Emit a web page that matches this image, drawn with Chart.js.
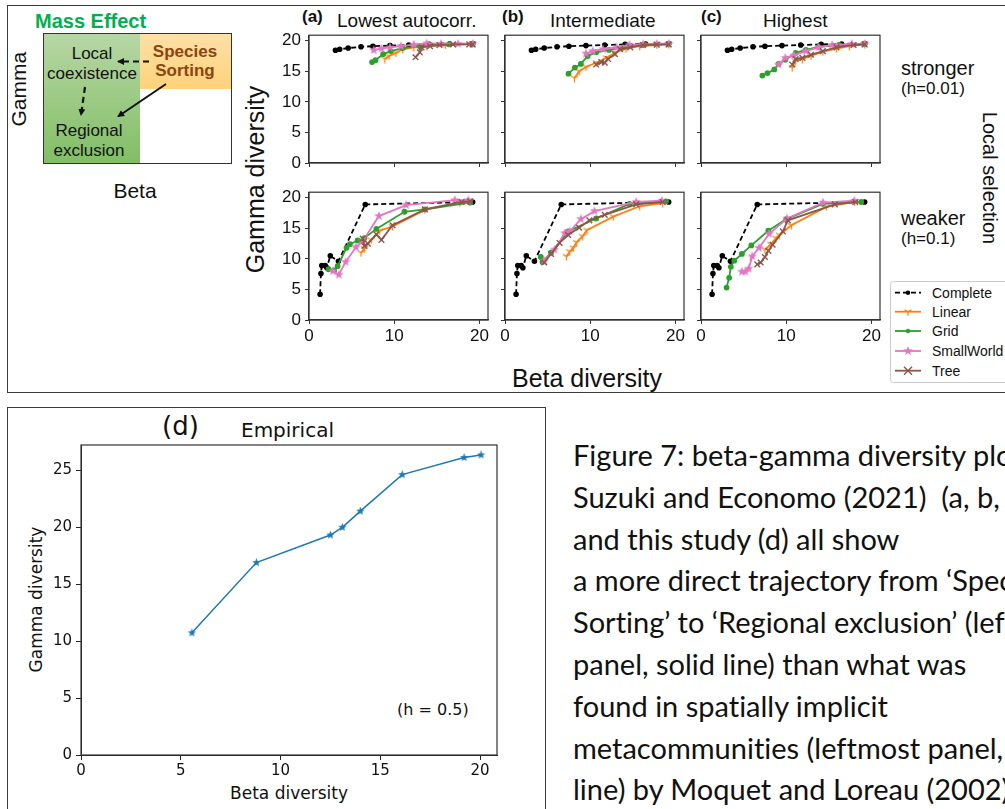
<!DOCTYPE html>
<html>
<head>
<meta charset="utf-8">
<script src="https://cdn.jsdelivr.net/npm/chart.js@4.4.1/dist/chart.umd.min.js"></script>
<style>
  body { margin: 0; width: 1005px; height: 809px; overflow: hidden; background: #fff; position: relative;
         font-family: "Liberation Sans", Arial, sans-serif; color: #111; }
  .abs { position: absolute; white-space: nowrap; line-height: 1; }
  canvas { position: absolute; }
  .box { position: absolute; border: 1.5px solid #3a3a3a; }
</style>
</head>
<body>

<!-- outer frames -->
<div class="box" style="left:7px;top:5px;width:1100px;height:386px;"></div>
<div class="box" style="left:7px;top:407px;width:537px;height:420px;"></div>

<!-- schematic (not data) -->
<div class="abs" style="left:35px;top:11px;font-size:20px;font-weight:bold;color:#00b050;">Mass Effect</div>
<div style="position:absolute;left:43px;top:33px;width:187px;height:129px;border:1.5px solid #333;overflow:hidden;">
  <div style="position:absolute;left:0;top:0;width:96px;height:129px;background:linear-gradient(#b7d7a4,#82be66);"></div>
  <div style="position:absolute;left:96px;top:0;width:91px;height:55px;background:linear-gradient(#fde0a6,#ffd27a);"></div>
</div>
<div class="abs" style="left:46px;top:45px;width:92px;text-align:center;font-size:17px;">Local</div>
<div class="abs" style="left:44px;top:65px;width:96px;text-align:center;font-size:17px;">coexistence</div>
<div class="abs" style="left:140px;top:43px;width:90px;text-align:center;font-size:17px;font-weight:bold;color:#8a4510;">Species</div>
<div class="abs" style="left:140px;top:62px;width:90px;text-align:center;font-size:17px;font-weight:bold;color:#8a4510;">Sorting</div>
<div class="abs" style="left:44px;top:122px;width:90px;text-align:center;font-size:17px;">Regional</div>
<div class="abs" style="left:44px;top:142px;width:90px;text-align:center;font-size:17px;">exclusion</div>
<svg style="position:absolute;left:0;top:0" width="250" height="200">
  <defs>
    <marker id="ah" markerWidth="8" markerHeight="8" refX="6" refY="4" orient="auto" markerUnits="userSpaceOnUse">
      <path d="M0,0.5 L7,4 L0,7.5 Z" fill="#111"/>
    </marker>
  </defs>
  <line x1="149" y1="61.5" x2="118" y2="61.5" stroke="#111" stroke-width="2.2" stroke-dasharray="6,4" marker-end="url(#ah)"/>
  <line x1="85" y1="87" x2="81" y2="115" stroke="#111" stroke-width="2.2" stroke-dasharray="6,4" marker-end="url(#ah)"/>
  <line x1="166" y1="84" x2="118" y2="116.5" stroke="#111" stroke-width="2" marker-end="url(#ah)"/>
</svg>
<div class="abs" style="left:-12px;top:86px;width:60px;text-align:center;font-size:21px;transform:rotate(-90deg);">Gamma</div>
<div class="abs" style="left:105px;top:180px;width:60px;text-align:center;font-size:21px;">Beta</div>

<!-- panel titles and side labels -->
<div class="abs" style="left:302px;top:8px;font-size:17px;font-weight:bold;">(a)</div>
<div class="abs" style="left:337px;top:11px;font-size:19px;">Lowest autocorr.</div>
<div class="abs" style="left:502px;top:8px;font-size:17px;font-weight:bold;">(b)</div>
<div class="abs" style="left:550px;top:11px;font-size:19px;">Intermediate</div>
<div class="abs" style="left:701px;top:8px;font-size:17px;font-weight:bold;">(c)</div>
<div class="abs" style="left:763px;top:11px;font-size:19px;">Highest</div>
<div class="abs" style="left:901px;top:58px;font-size:20px;">stronger</div>
<div class="abs" style="left:901px;top:80px;font-size:17px;">(h=0.01)</div>
<div class="abs" style="left:901px;top:208px;font-size:20px;">weaker</div>
<div class="abs" style="left:901px;top:230px;font-size:17px;">(h=0.1)</div>
<div class="abs" style="left:920px;top:168px;width:140px;text-align:center;font-size:20px;transform:rotate(90deg);">Local selection</div>
<div class="abs" style="left:155px;top:167px;width:200px;text-align:center;font-size:25px;transform:rotate(-90deg);">Gamma diversity</div>
<div class="abs" style="left:487px;top:366px;width:200px;text-align:center;font-size:25px;">Beta diversity</div>

<!-- legend for the six panels -->
<svg id="legend" style="position:absolute;left:890px;top:281px" width="130" height="103"></svg>

<!-- panel (d) texts -->
<div class="abs" style="left:162px;top:413px;font-family:'DejaVu Sans';font-size:26px;">(d)</div>
<div class="abs" style="left:241px;top:420px;font-family:'DejaVu Sans';font-size:20px;">Empirical</div>
<div class="abs" style="left:-44px;top:591px;width:160px;text-align:center;font-family:'DejaVu Sans';font-size:17px;transform:rotate(-90deg);">Gamma diversity</div>
<div class="abs" style="left:209px;top:785px;width:160px;text-align:center;font-family:'DejaVu Sans';font-size:17px;">Beta diversity</div>
<div class="abs" style="left:397px;top:702px;font-family:'DejaVu Sans';font-size:16px;">(h = 0.5)</div>

<!-- caption -->
<div class="abs" style="left:573px;top:434px;font-family:Lato,'Open Sans',sans-serif;font-size:29px;line-height:41.8px;color:#111;font-variant-ligatures:none;">Figure 7: beta-gamma diversity plots<br>Suzuki and Economo (2021) &nbsp;(a, b, c)<br>and this study (d) all show<br>a more direct trajectory from ‘Species<br>Sorting’ to ‘Regional exclusion’ (left<br>panel, solid line) than what was<br>found in spatially implicit<br>metacommunities (leftmost panel,<br>line) by Moquet and Loreau (2002)</div>

<script>
// ---- data: [beta, gamma] pairs ----
const strongComplete = [[3.1,18.45],[3.6,18.6],[4.6,18.8],[6.1,19.0],[7.5,19.1],[9.5,19.2],[11.7,19.3],[14.1,19.4],[16.5,19.45],[19.2,19.5]];
const weakComplete = [[1.3,4.2],[1.4,7.6],[1.5,8.9],[1.9,8.9],[2.1,8.55],[2.5,10.5],[3.45,9.6],[6.6,18.9],[19.2,19.3]];

const aStrongLinear = [[8.9,17.0],[9.4,17.5],[10.2,18.0],[11.0,18.6],[12.3,18.9],[13.8,19.1],[16.0,19.3],[19.2,19.5]];
const aStrongGrid = [[7.4,16.5],[7.8,16.8],[8.7,17.8],[9.6,18.3],[11.0,18.8],[13.0,19.1],[16.4,19.4],[19.2,19.5]];
const aStrongSmallWorld = [[7.6,18.45],[8.5,18.7],[9.5,18.9],[10.8,19.1],[12.3,19.35],[13.8,19.55],[15.5,19.5],[17.5,19.5],[19.2,19.5]];
const aStrongTree = [[12.5,17.3],[13.0,18.1],[13.2,18.9],[14.2,19.1],[15.3,19.3],[16.9,19.4],[18.8,19.4],[19.2,19.4]];

const bStrongLinear = [[8.15,13.9],[8.7,15.0],[9.5,15.7],[10.7,16.4],[11.9,17.2],[13.0,18.1],[14.2,18.7],[15.8,19.1],[17.8,19.3],[19.2,19.4]];
const bStrongGrid = [[7.45,14.6],[8.2,15.6],[8.9,16.2],[9.7,17.5],[10.7,18.1],[12.2,18.5],[13.8,18.9],[16.2,19.3],[19.2,19.5]];
const bStrongSmallWorld = [[9.5,17.9],[10.3,18.3],[11.5,18.6],[13.1,18.9],[14.6,19.3],[16.2,19.4],[17.8,19.5],[19.2,19.5]];
const bStrongTree = [[10.7,16.1],[11.3,16.5],[11.7,16.4],[12.1,17.0],[12.9,17.8],[13.5,18.6],[14.7,18.9],[16.2,19.3],[17.8,19.35],[19.2,19.4]];

const cStrongLinear = [[10.7,15.6],[11.1,16.7],[11.9,17.0],[12.9,17.5],[14.3,18.2],[15.9,18.7],[17.4,19.1],[19.2,19.4]];
const cStrongGrid = [[7.2,14.3],[7.8,14.7],[8.6,15.3],[9.1,16.2],[9.9,16.9],[11.1,18.0],[12.3,18.5],[13.8,19.0],[16.2,19.3],[19.2,19.5]];
const cStrongSmallWorld = [[9.1,16.1],[9.9,17.2],[10.9,17.6],[12.3,18.3],[13.8,18.9],[15.4,19.3],[17.7,19.45],[19.2,19.5]];
const cStrongTree = [[10.7,16.1],[11.1,17.0],[11.9,17.2],[12.9,17.7],[14.3,18.3],[15.9,18.9],[17.9,19.3],[19.2,19.4]];

const aWeakLinear = [[6.1,11.0],[6.5,11.7],[7.3,13.1],[8.3,14.6],[9.8,15.3],[13.6,18.0],[17.7,19.2],[18.9,19.4]];
const aWeakGrid = [[2.3,8.3],[2.95,8.1],[3.35,8.8],[4.4,11.8],[4.8,12.4],[5.7,13.0],[6.5,13.4],[7.9,14.9],[11.2,17.7],[13.6,18.1],[18.9,19.2]];
const aWeakSmallWorld = [[2.8,8.0],[3.5,7.4],[4.3,9.5],[5.5,11.9],[6.3,12.9],[8.2,17.0],[11.4,18.8],[17.1,19.6],[18.7,19.6]];
const aWeakTree = [[6.3,13.3],[6.5,12.1],[6.9,12.5],[7.9,14.0],[8.5,13.1],[9.8,15.5],[13.6,18.1],[17.9,19.3],[18.9,19.4]];

const bWeakLinear = [[7.2,10.4],[7.6,11.2],[8.0,11.8],[8.4,12.7],[9.1,13.7],[9.6,14.7],[12.7,16.9],[15.8,18.6],[18.5,19.1]];
const bWeakGrid = [[4.2,10.3],[4.4,9.5],[5.4,11.0],[7.4,14.5],[10.7,16.6],[14.6,19.0],[18.9,19.4]];
const bWeakSmallWorld = [[4.6,9.7],[5.8,11.5],[7.0,14.2],[7.6,14.5],[8.9,16.5],[10.5,17.8],[15.4,19.3],[18.4,19.5]];
const bWeakTree = [[4.6,9.4],[5.4,10.8],[6.4,12.6],[7.4,13.9],[8.7,15.1],[9.9,16.3],[11.7,17.2],[15.4,18.9],[18.5,19.3]];

const cWeakLinear = [[7.5,11.5],[8.2,12.4],[8.8,13.4],[9.2,13.9],[10.6,15.5],[14.7,18.5],[18.0,19.3]];
const cWeakGrid = [[3.0,5.3],[3.3,6.9],[3.5,8.7],[3.9,9.7],[4.8,10.8],[5.9,12.2],[7.9,14.6],[10.0,16.5],[14.3,19.0],[18.8,19.3]];
const cWeakSmallWorld = [[4.8,7.9],[5.2,7.9],[5.6,8.4],[6.0,10.4],[6.8,11.8],[8.0,14.1],[10.1,16.6],[14.3,19.2],[18.0,19.5]];
const cWeakTree = [[6.6,9.1],[7.0,9.4],[7.5,10.3],[7.9,11.3],[8.4,12.3],[9.6,14.5],[10.2,16.3],[15.7,18.9],[18.1,19.3]];

// empirical panel (d)
const empBeta = [5.56, 8.79, 12.5, 13.1, 14.0, 16.1, 19.2, 20.05];
const empGamma = [10.72, 16.88, 19.3, 19.98, 21.4, 24.6, 26.1, 26.33];

// tick labels
const betaTicks = [0, 10, 20];
const gammaTicks = [0, 5, 10, 15, 20];
const empBetaTicks = [0, 5, 10, 15, 20];
const empGammaTicks = [0, 5, 10, 15, 20, 25];

const networkNames = ['Complete', 'Linear', 'Grid', 'SmallWorld', 'Tree'];
const networkColors = ['#000000', '#ff7f0e', '#2ca02c', '#e377c2', '#8c564b'];

// marker images for styles Chart.js doesn't have (matplotlib '*' and '1')
function markerCanvas(kind, color, size) {
  const c = document.createElement('canvas');
  c.width = c.height = size;
  const g = c.getContext('2d');
  const m = size / 2;
  g.strokeStyle = color;
  g.fillStyle = color;
  if (kind === 'star') {
    g.beginPath();
    for (let i = 0; i < 10; i++) {
      const r = i % 2 ? m * 0.42 : m * 0.98;
      const a = -Math.PI / 2 + i * Math.PI / 5;
      g.lineTo(m + r * Math.cos(a), m + r * Math.sin(a));
    }
    g.closePath();
    g.fill();
  } else {
    g.lineWidth = 1.3;
    g.beginPath();
    [[0, 1], [-0.866, -0.5], [0.866, -0.5]].forEach(([dx, dy]) => {
      g.moveTo(m, m);
      g.lineTo(m + dx * (m - 0.5), m + dy * (m - 0.5));
    });
    g.stroke();
  }
  return c;
}

const triOrange = markerCanvas('tri', networkColors[1], 9);
const starPink = markerCanvas('star', networkColors[3], 10);
const starBlue = markerCanvas('star', '#1f77b4', 9);

// draws the full matplotlib style box around the plot area
const framePlugin = {
  id: 'frame',
  afterDraw(chart) {
    const { ctx, chartArea: a } = chart;
    ctx.save();
    ctx.strokeStyle = '#333';
    ctx.lineWidth = 1.2;
    ctx.strokeRect(a.left, a.top, a.right - a.left, a.bottom - a.top);
    ctx.restore();
  }
};

function styleFor(i) {
  if (i === 0) return { pointStyle: 'circle', pointRadius: 1.9, borderDash: [5, 3] };
  if (i === 1) return { pointStyle: triOrange, pointRadius: 4 };
  if (i === 2) return { pointStyle: 'circle', pointRadius: 2 };
  if (i === 3) return { pointStyle: starPink, pointRadius: 5 };
  return { pointStyle: 'crossRot', pointRadius: 4, pointBorderWidth: 1.4 };
}

// geometry for one small panel: plot area position and size
const leftW = 40, topPad = 12, rightPad = 16, bottomH = 28;

function makePanel(plotLeft, plotTop, series, showX, showY) {
  const plotW = 179, plotH = 130;
  const cv = document.createElement('canvas');
  cv.width = leftW + plotW + rightPad;
  cv.height = topPad + plotH + bottomH;
  cv.style.left = (plotLeft - leftW) + 'px';
  cv.style.top = (plotTop - topPad) + 'px';
  document.body.appendChild(cv);

  // later series sit on top, as in the original
  const datasets = series.map((pts, i) => Object.assign({
    label: networkNames[i],
    data: pts.map(([x, y]) => ({ x, y })),
    showLine: true,
    borderColor: networkColors[i],
    backgroundColor: networkColors[i],
    pointBorderColor: networkColors[i],
    borderWidth: 1.8,
    order: series.length - i
  }, styleFor(i)));

  const tickFont = { family: '"Liberation Sans", Arial, sans-serif', size: 17 };
  new Chart(cv.getContext('2d'), {
    type: 'scatter',
    data: { datasets },
    options: {
      responsive: false,
      animation: false,
      events: [],
      layout: { padding: { top: topPad, right: rightPad, left: 0, bottom: 0 } },
      plugins: { legend: { display: false }, tooltip: { enabled: false } },
      scales: {
        x: {
          type: 'linear', min: 0, max: 21,
          afterBuildTicks: s => { s.ticks = betaTicks.map(v => ({ value: v })); },
          afterFit: s => { s.height = bottomH; },
          grid: { drawOnChartArea: false, tickLength: 4, color: '#333' },
          border: { color: '#333', width: 1.2 },
          ticks: { font: tickFont, color: '#111', padding: 2, maxRotation: 0,
                   callback: v => showX ? String(v) : '' }
        },
        y: {
          type: 'linear', min: 0, max: 20.9,
          afterBuildTicks: s => { s.ticks = gammaTicks.map(v => ({ value: v })); },
          afterFit: s => { s.width = leftW; },
          grid: { drawOnChartArea: false, tickLength: 4, color: '#333' },
          border: { color: '#333', width: 1.2 },
          ticks: { font: tickFont, color: '#111', padding: 4,
                   callback: v => showY ? String(v) : '' }
        }
      }
    },
    plugins: [framePlugin]
  });
}

makePanel(309, 33, [strongComplete, aStrongLinear, aStrongGrid, aStrongSmallWorld, aStrongTree], false, true);
makePanel(505, 33, [strongComplete, bStrongLinear, bStrongGrid, bStrongSmallWorld, bStrongTree], false, false);
makePanel(701, 33, [strongComplete, cStrongLinear, cStrongGrid, cStrongSmallWorld, cStrongTree], false, false);
makePanel(309, 190, [weakComplete, aWeakLinear, aWeakGrid, aWeakSmallWorld, aWeakTree], true, true);
makePanel(505, 190, [weakComplete, bWeakLinear, bWeakGrid, bWeakSmallWorld, bWeakTree], true, false);
makePanel(701, 190, [weakComplete, cWeakLinear, cWeakGrid, cWeakSmallWorld, cWeakTree], true, false);

// legend (line sample + marker for each network)
(function drawLegend() {
  const svg = document.getElementById('legend');
  let html = '<rect x="0.5" y="0.5" width="140" height="101" rx="3" fill="#fff" stroke="#cccccc"/>';
  const rows = [11.7, 30.7, 50, 70, 89.7];
  networkNames.forEach((name, i) => {
    const y = rows[i], c = networkColors[i];
    const dash = i === 0 ? ' stroke-dasharray="5,3"' : '';
    html += `<line x1="5" y1="${y}" x2="31" y2="${y}" stroke="${c}" stroke-width="1.8"${dash}/>`;
    const mx = 18;
    if (i === 0 || i === 2) html += `<circle cx="${mx}" cy="${y}" r="2.2" fill="${c}"/>`;
    if (i === 1) html += `<path d="M${mx},${y} v4 M${mx},${y} l-3.5,-2 M${mx},${y} l3.5,-2" stroke="${c}" stroke-width="1.3"/>`;
    if (i === 3) {
      let p = '';
      for (let k = 0; k < 10; k++) {
        const r = k % 2 ? 2.1 : 5, a = -Math.PI / 2 + k * Math.PI / 5;
        p += (k ? 'L' : 'M') + (mx + r * Math.cos(a)).toFixed(2) + ',' + (y + r * Math.sin(a)).toFixed(2);
      }
      html += `<path d="${p}Z" fill="${c}"/>`;
    }
    if (i === 4) html += `<path d="M${mx - 4},${y - 4} L${mx + 4},${y + 4} M${mx - 4},${y + 4} L${mx + 4},${y - 4}" stroke="${c}" stroke-width="1.4"/>`;
    html += `<text x="42" y="${y + 5}" font-family="Liberation Sans, Arial, sans-serif" font-size="14" fill="#111">${name}</text>`;
  });
  svg.innerHTML = html;
})();

// panel (d): empirical trajectory
(function drawEmpirical() {
  const plotLeft = 81, plotTop = 444, plotW = 416, plotH = 311;
  const lw = 60, tp = 12, rp = 20, bh = 30;
  const cv = document.createElement('canvas');
  cv.width = lw + plotW + rp;
  cv.height = tp + plotH + bh;
  cv.style.left = (plotLeft - lw) + 'px';
  cv.style.top = (plotTop - tp) + 'px';
  document.body.appendChild(cv);
  const tickFont = { family: '"DejaVu Sans", sans-serif', size: 15 };
  new Chart(cv.getContext('2d'), {
    type: 'scatter',
    data: {
      datasets: [{
        label: 'Empirical',
        data: empBeta.map((b, i) => ({ x: b, y: empGamma[i] })),
        showLine: true,
        borderColor: '#1f77b4',
        backgroundColor: '#1f77b4',
        borderWidth: 1.5,
        pointStyle: starBlue,
        pointRadius: 4.5
      }]
    },
    options: {
      responsive: false,
      animation: false,
      events: [],
      layout: { padding: { top: tp, right: rp, left: 0, bottom: 0 } },
      plugins: { legend: { display: false }, tooltip: { enabled: false } },
      scales: {
        x: {
          type: 'linear', min: 0, max: 20.85,
          afterBuildTicks: s => { s.ticks = empBetaTicks.map(v => ({ value: v })); },
          afterFit: s => { s.height = bh; },
          grid: { drawOnChartArea: false, tickLength: 5, color: '#222' },
          border: { color: '#222', width: 1 },
          ticks: { font: tickFont, color: '#111', padding: 2, maxRotation: 0 }
        },
        y: {
          type: 'linear', min: 0, max: 27.2,
          afterBuildTicks: s => { s.ticks = empGammaTicks.map(v => ({ value: v })); },
          afterFit: s => { s.width = lw; },
          grid: { drawOnChartArea: false, tickLength: 5, color: '#222' },
          border: { color: '#222', width: 1 },
          ticks: { font: tickFont, color: '#111', padding: 4 }
        }
      }
    },
    plugins: [framePlugin]
  });
})();
</script>
</body>
</html>
